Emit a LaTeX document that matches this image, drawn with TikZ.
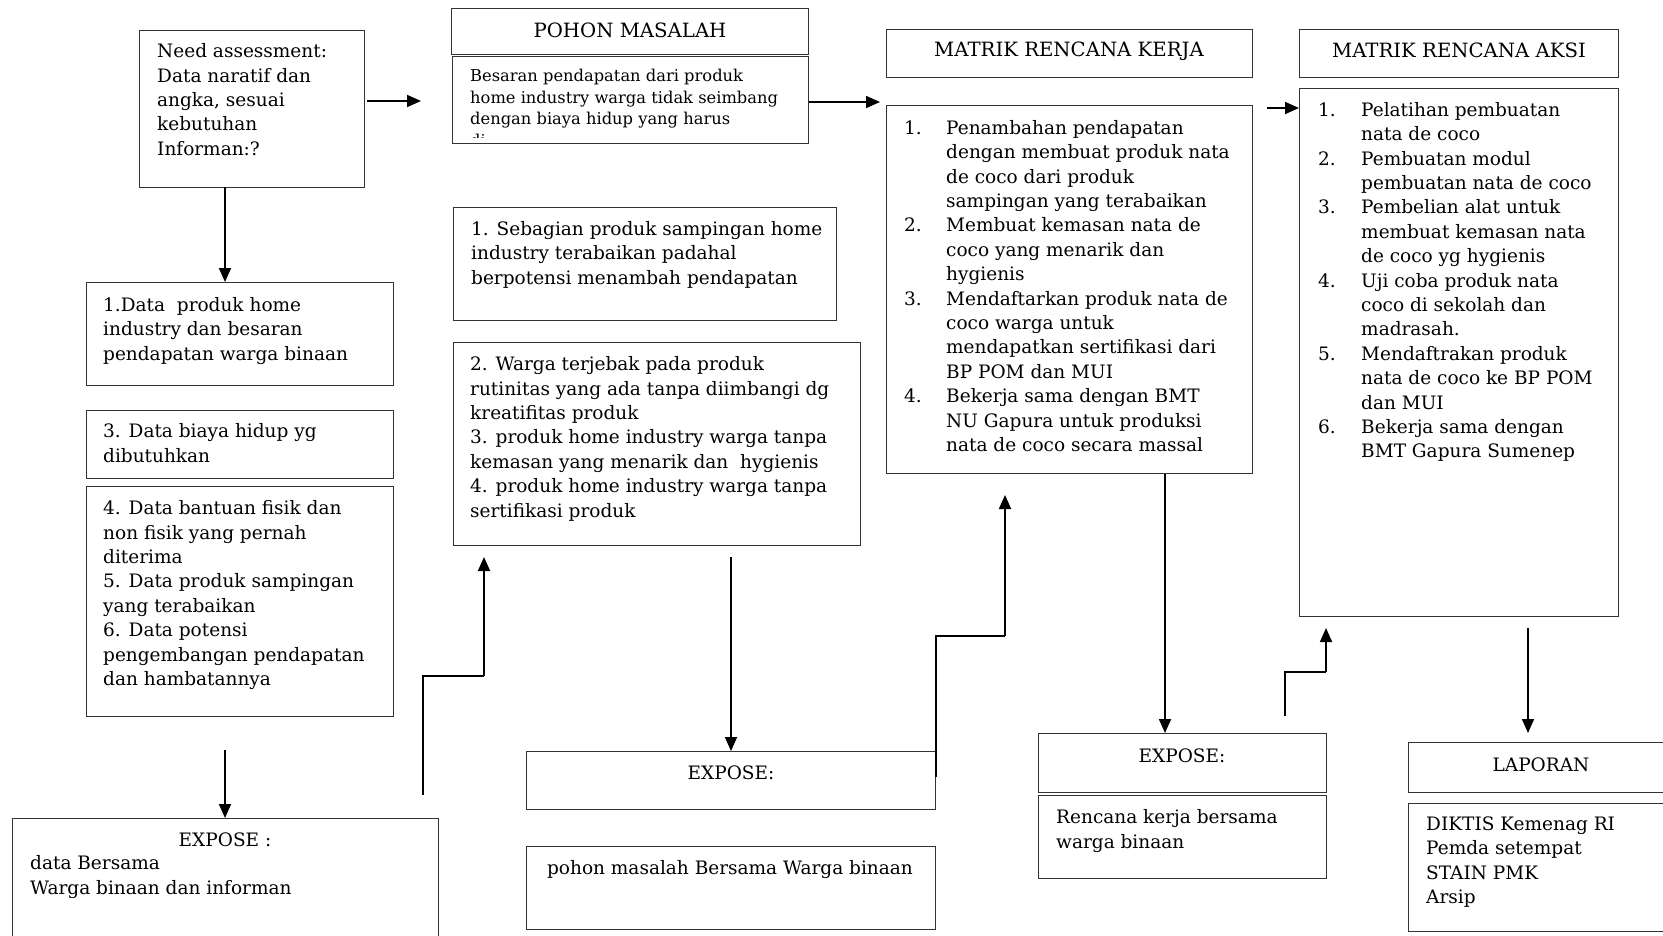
\documentclass[tikz,border=0pt]{standalone}
\usepackage{fontspec}
\setmainfont{DejaVu Serif}
\usetikzlibrary{arrows.meta,calc}
\newcommand\itmA[1]{\makebox[42pt][l]{#1}}
\newcommand\itmB[1]{\makebox[43pt][l]{#1}}
\tikzset{
  box/.style={draw=black!80, line width=1.1pt, rectangle, inner sep=0pt, anchor=north west},
  txt/.style={inner sep=0pt, anchor=north west, align=left, font=\fontsize{18.5}{24.4}\selectfont},
  ctxt/.style={inner sep=0pt, align=center, font=\fontsize{18.5}{24.4}\selectfont},
  ttl/.style={inner sep=0pt, align=center, font=\fontsize{19.7}{24.4}\selectfont},
  arr/.style={line width=1.8pt, -{Triangle[length=14pt,width=12pt]}},
  ln/.style={line width=1.8pt},
}
\begin{document}
\begin{tikzpicture}[x=1pt,y=-1pt]
\useasboundingbox (0,0) rectangle (1663,935);
\fill[white] (0,0) rectangle (1663,935);

% ---- boxes
\node[box, minimum width=225pt, minimum height=157pt] (need) at (139,30) {};
\node[box, minimum width=357pt, minimum height=46pt] (pohonT) at (451,8) {};
\node[box, minimum width=356pt, minimum height=87pt] (besaran) at (452,56) {};
\node[box, minimum width=366pt, minimum height=48pt] (kerjaT) at (886,29) {};
\node[box, minimum width=366pt, minimum height=368pt] (kerja) at (886,105) {};
\node[box, minimum width=319pt, minimum height=48pt] (aksiT) at (1299,29) {};
\node[box, minimum width=319pt, minimum height=528pt] (aksi) at (1299,88) {};
\node[box, minimum width=307pt, minimum height=103pt] (b1) at (86,282) {};
\node[box, minimum width=307pt, minimum height=68pt] (b3) at (86,410) {};
\node[box, minimum width=307pt, minimum height=230pt] (b4) at (86,486) {};
\node[box, minimum width=426pt, minimum height=142pt] (exp1) at (12,818) {};
\node[box, minimum width=383pt, minimum height=113pt] (seb) at (453,207) {};
\node[box, minimum width=407pt, minimum height=203pt] (b24) at (453,342) {};
\node[box, minimum width=409pt, minimum height=58pt] (exp2) at (526,751) {};
\node[box, minimum width=409pt, minimum height=83pt] (pohB) at (526,846) {};
\node[box, minimum width=288pt, minimum height=59pt] (exp3) at (1038,733) {};
\node[box, minimum width=288pt, minimum height=83pt] (renc) at (1038,795) {};
\node[box, minimum width=272pt, minimum height=50pt] (lap) at (1408,742) {};
\node[box, minimum width=272pt, minimum height=128pt] (dik) at (1408,803) {};

% ---- texts
\node[txt] (tneed) at (157,43.5) {Need assessment:\\Data naratif dan\\angka, sesuai\\kebutuhan\\Informan:?};
\node[ttl] (tpohonT) at (630,30) {POHON MASALAH};
\begin{scope}
\clip (452,56) rectangle (808,137);
\node[txt, font=\fontsize{16.3}{21.7}\selectfont] (tbes) at (470,69) {Besaran pendapatan dari produk\\home industry warga tidak seimbang\\dengan biaya hidup yang harus\\di};
\end{scope}
\node[ttl] (tkerjaT) at (1069,51) {MATRIK RENCANA KERJA};
\node[ttl] (taksiT) at (1459,50) {MATRIK RENCANA AKSI};
\node[txt] (tkerja) at (904,120) {\itmA{1.}Penambahan pendapatan\\\itmA{}dengan membuat produk nata\\\itmA{}de coco dari produk\\\itmA{}sampingan yang terabaikan\\\itmA{2.}Membuat kemasan nata de\\\itmA{}coco yang menarik dan\\\itmA{}hygienis\\\itmA{3.}Mendaftarkan produk nata de\\\itmA{}coco warga untuk\\\itmA{}mendapatkan sertifikasi dari\\\itmA{}BP POM dan MUI\\\itmA{4.}Bekerja sama dengan BMT\\\itmA{}NU Gapura untuk produksi\\\itmA{}nata de coco secara massal};
\node[txt] (taksi) at (1318,102) {\itmB{1.}Pelatihan pembuatan\\\itmB{}nata de coco\\\itmB{2.}Pembuatan modul\\\itmB{}pembuatan nata de coco\\\itmB{3.}Pembelian alat untuk\\\itmB{}membuat kemasan nata\\\itmB{}de coco yg hygienis\\\itmB{4.}Uji coba produk nata\\\itmB{}coco di sekolah dan\\\itmB{}madrasah.\\\itmB{5.}Mendaftrakan produk\\\itmB{}nata de coco ke BP POM\\\itmB{}dan MUI\\\itmB{6.}Bekerja sama dengan\\\itmB{}BMT Gapura Sumenep};
\node[txt] (tb1) at (103,297) {1.Data\ \ produk home\\industry dan besaran\\pendapatan warga binaan};
\node[txt] (tb3) at (103,423.5) {3. Data biaya hidup yg\\dibutuhkan};
\node[txt] (tb4) at (103,500.5) {4. Data bantuan fisik dan\\non fisik yang pernah\\diterima\\5. Data produk sampingan\\yang terabaikan\\6. Data potensi\\pengembangan pendapatan\\dan hambatannya};
\node[ctxt] (texp1) at (225,840) {EXPOSE :};
\node[txt] (texp1b) at (30,855.5) {data Bersama\\Warga binaan dan informan};
\node[txt] (tseb) at (471,221) {1. Sebagian produk sampingan home\\industry terabaikan padahal\\berpotensi menambah pendapatan};
\node[txt] (tb24) at (470,356.5) {2. Warga terjebak pada produk\\rutinitas yang ada tanpa diimbangi dg\\kreatifitas produk\\3. produk home industry warga tanpa\\kemasan yang menarik dan\ \ hygienis\\4. produk home industry warga tanpa\\sertifikasi produk};
\node[ctxt] (texp2) at (731,773) {EXPOSE:};
\node[ctxt, anchor=north] (tpohB) at (730,860.5) {pohon masalah Bersama Warga binaan};
\node[ctxt] (texp3) at (1182,756) {EXPOSE:};
\node[txt] (trenc) at (1056,809.5) {Rencana kerja bersama\\warga binaan};
\node[ctxt] (tlap) at (1541,765) {LAPORAN};
\node[txt] (tdik) at (1426,816.5) {DIKTIS Kemenag RI\\Pemda setempat\\STAIN PMK\\Arsip};

% ---- connectors
\coordinate (a1s) at (367,101);
\coordinate (a1e) at (421,101);
\draw[arr] (a1s) -- (a1e);
\coordinate (a2e) at (880,102);
\draw[arr] (besaran.east |- a2e) -- (a2e);
\coordinate (a3s) at (1267,108);
\draw[arr] (a3s) -- (aksi.west |- a3s);
\coordinate (a4) at (225,187);
\draw[arr] (a4) -- (a4 |- b1.north);
\coordinate (a5) at (225,750);
\draw[arr] (a5) -- (a5 |- exp1.north);
\coordinate (s1a) at (423,795);
\coordinate (s1b) at (484,676);
\coordinate (s1e) at (484,557);
\draw[ln] (s1a) |- (s1b);
\draw[arr] (s1b) -- (s1e);
\coordinate (a7) at (731,557);
\draw[arr] (a7) -- (a7 |- exp2.north);
\coordinate (s2a) at (936,777);
\coordinate (s2b) at (1005,636);
\coordinate (s2e) at (1005,495);
\draw[ln] (s2a) |- (s2b);
\draw[arr] (s2b) -- (s2e);
\coordinate (a9) at (1165,473);
\draw[arr] (a9 |- kerja.south) -- (a9 |- exp3.north);
\coordinate (s3a) at (1285,716);
\coordinate (s3b) at (1326,672);
\coordinate (s3e) at (1326,628);
\draw[ln] (s3a) |- (s3b);
\draw[arr] (s3b) -- (s3e);
\coordinate (a11s) at (1528,628);
\coordinate (a11e) at (1528,733);
\draw[arr] (a11s) -- (a11e);
\end{tikzpicture}
\end{document}
